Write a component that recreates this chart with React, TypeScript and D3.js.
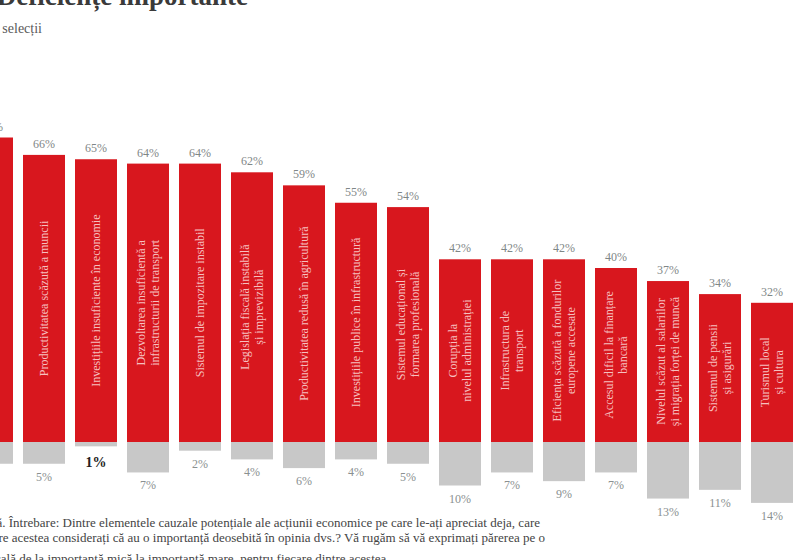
import React from "react";
import * as d3 from "d3";

const categories: string[][] = [
  ["Birocrația excesivă din instituțiile publice"],
  ["Productivitatea scăzută a muncii"],
  ["Investițiile insuficiente în economie"],
  ["Dezvoltarea insuficientă a", "infrastructurii de transport"],
  ["Sistemul de impozitare instabil"],
  ["Legislația fiscală instabilă", "și imprevizibilă"],
  ["Productivitatea redusă în agricultură"],
  ["Investițiile publice în infrastructură"],
  ["Sistemul educațional și", "formarea profesională"],
  ["Corupția la", "nivelul administrației"],
  ["Infrastructura de", "transport"],
  ["Eficiența scăzută a fondurilor", "europene accesate"],
  ["Accesul dificil la finanțare", "bancară"],
  ["Nivelul scăzut al salariilor", "și migrația forței de muncă"],
  ["Sistemul de pensii", "și asigurări"],
  ["Turismul local", "și cultura"],
];

const importantValues = [70, 66, 65, 64, 64, 62, 59, 55, 54, 42, 42, 42, 40, 37, 34, 32];
const unimportantValues = [5, 5, 1, 7, 2, 4, 6, 4, 5, 10, 7, 9, 7, 13, 11, 14];
const highlightedIndex = 2;

const titleText = "Deficiențe importante";
const subtitleText = "% din selecții";
const noteLines = [
  "Notă. Întrebare: Dintre elementele cauzale potențiale ale acțiunii economice pe care le-ați apreciat deja, care",
  "dintre acestea considerați că au o importanță deosebită în opinia dvs.? Vă rugăm să vă exprimați părerea pe o",
  "scală de la importanță mică la importanță mare, pentru fiecare dintre acestea",
];

const W = 800;
const H = 560;
const RED = "#d8171e";
const GRAY = "#c8c8c8";
const SERIF = "'Liberation Serif', 'DejaVu Serif', serif";

export default function App() {
  const keys = categories.map((_, i) => String(i));
  const x = d3.scaleBand<string>().domain(keys).range([-29, 793]).paddingInner(10 / 52).paddingOuter(0);
  const y = d3.scaleLinear().domain([-100, 100]).range([442 + 435, 442 - 435]);
  const bw = x.bandwidth();

  return (
    <svg
      width={W}
      height={H}
      style={{ position: "absolute", left: 0, top: 0, background: "#fff", overflow: "hidden" }}
      fontFamily={SERIF}
    >
      <rect x={0} y={0} width={W} height={H} fill="#fff" />
      <text x={248} y={5} textAnchor="end" fontSize={27} fontWeight="bold" fill="#3a3a3a">
        {titleText}
      </text>
      <text x={42} y={33} textAnchor="end" fontSize={14} fill="#5a5a5a">
        {subtitleText}
      </text>

      {keys.map((k, i) => {
        const x0 = x(k) as number;
        const cx = x0 + bw / 2;
        const top = y(importantValues[i]);
        const base = y(0);
        const bottom = y(-unimportantValues[i]);
        const mid = (top + base) / 2;
        const lines = categories[i];
        const hl = i === highlightedIndex;
        return (
          <g key={k}>
            <rect x={x0} y={top} width={bw} height={base - top} fill={RED} />
            <rect x={x0} y={base} width={bw} height={bottom - base} fill={GRAY} />
            <text x={cx} y={top - 7} textAnchor="middle" fontSize={12} fill="#7f8787">
              {importantValues[i]}%
            </text>
            <text
              x={cx}
              y={bottom + (hl ? 21 : 17)}
              textAnchor="middle"
              fontSize={hl ? 14 : 12}
              fontWeight={hl ? "bold" : "normal"}
              fill={hl ? "#222" : "#8a9090"}
            >
              {unimportantValues[i]}%
            </text>
            <text
              transform={`translate(${cx},${mid}) rotate(-90)`}
              textAnchor="middle"
              fontSize={12}
              fill="#f6c0c0"
            >
              {lines.map((ln, j) => (
                <tspan key={j} x={0} y={(j - (lines.length - 1) / 2) * 14} dominantBaseline="central">
                  {ln}
                </tspan>
              ))}
            </text>
          </g>
        );
      })}

      <text x={540} y={527} textAnchor="end" fontSize={13} fill="#444">
        {noteLines[0]}
      </text>
      <text x={545} y={542} textAnchor="end" fontSize={13} fill="#444">
        {noteLines[1]}
      </text>
      <text x={-10} y={563} textAnchor="start" fontSize={13} fill="#444">
        {noteLines[2]}
      </text>
    </svg>
  );
}
